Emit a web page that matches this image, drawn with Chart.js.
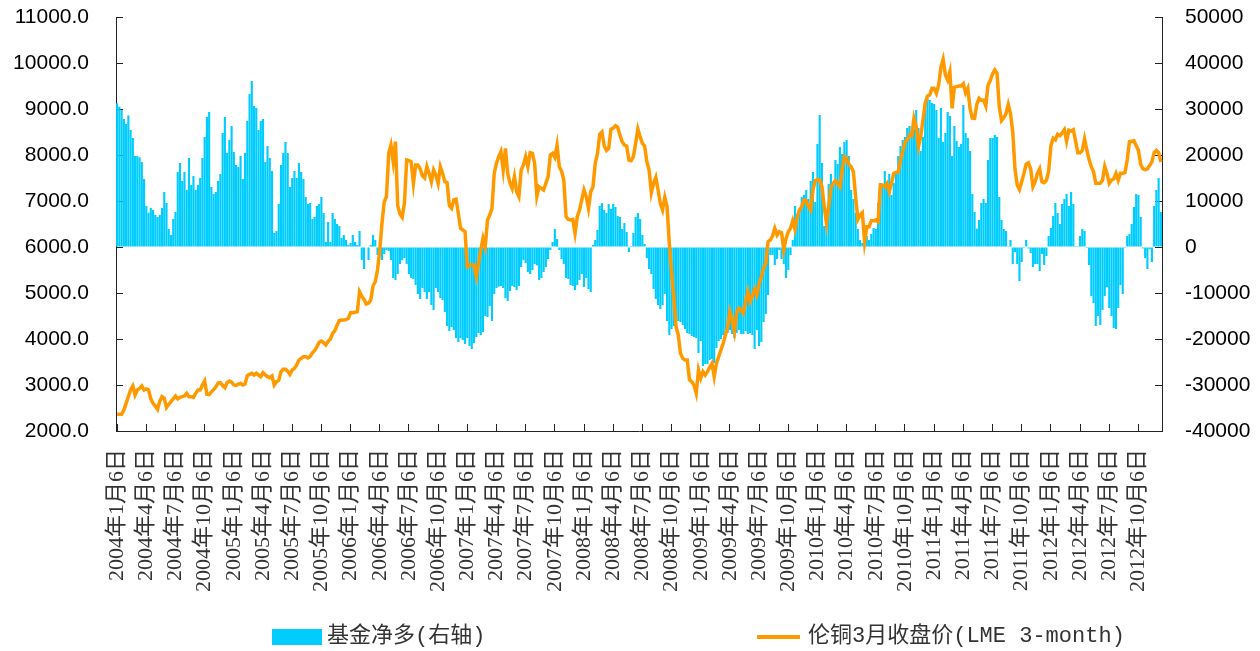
<!DOCTYPE html>
<html>
<head>
<meta charset="utf-8">
<script src="https://cdn.jsdelivr.net/npm/chart.js@4.4.1/dist/chart.umd.min.js"></script>
<style>
  html, body { margin: 0; padding: 0; background: #fff; }
  #wrap { position: relative; width: 1260px; height: 651px; }
  .lg { position: absolute; }
  .lgText { font: 22px "Liberation Mono", "Noto Sans CJK SC", monospace; color: #333; line-height: 24px; white-space: nowrap; }
</style>
</head>
<body>
<div id="wrap">
  <canvas id="myChart" width="1260" height="651"></canvas>
  <div class="lg" style="left:272px; top:629px; width:50px; height:16px; background:#00CCFF;"></div>
  <div class="lg lgText" style="left:327px; top:625px;">基金净多(右轴)</div>
  <div class="lg" style="left:757px; top:635px; width:43px; height:4px; background:#FF9900;"></div>
  <div class="lg lgText" style="left:808px; top:625px;">伦铜3月收盘价(LME 3-month)</div>
</div>
<script>
// weekly data, 2004-01-06 .. 2012-12

// quarter tick labels (one every 13 weeks)
const tickLabels = [
  '2004年1月6日', '2004年4月6日', '2004年7月6日', '2004年10月6日',
  '2005年1月6日', '2005年4月6日', '2005年7月6日', '2005年10月6日',
  '2006年1月6日', '2006年4月6日', '2006年7月6日', '2006年10月6日',
  '2007年1月6日', '2007年4月6日', '2007年7月6日', '2007年10月6日',
  '2008年1月6日', '2008年4月6日', '2008年7月6日', '2008年10月6日',
  '2009年1月6日', '2009年4月6日', '2009年7月6日', '2009年10月6日',
  '2010年1月6日', '2010年4月6日', '2010年7月6日', '2010年10月6日',
  '2011年1月6日', '2011年4月6日', '2011年7月6日', '2011年10月6日',
  '2012年1月6日', '2012年4月6日', '2012年7月6日', '2012年10月6日'
]

// 基金净多 (right axis)
const netA = [
  31230, 30500, 29780, 27830, 26740, 28620, 25430, 23700, 19780, 19780,
  19500, 18480, 14780, 8910, 7460, 8480, 8040, 6960, 6520, 6960,
  8480, 11960, 9560, 3910, 2610, 6090, 7610, 16300, 18260, 14350,
  16300, 12390, 19350, 13480, 15430, 12390, 13500, 15000, 19350, 23910,
  28260, 29350, 13040, 11520, 11960, 14350, 15870, 24780, 28260, 20430,
  23260, 26300, 20650, 17830, 17390, 19780, 14780, 20430, 27390, 33260,
  36090, 30650, 30220, 25430, 27390, 27830, 18480, 21960, 19350, 16520,
  3040, 3480, 9350, 17830, 20430, 22830, 20430, 13040, 15000, 16520,
  15000, 18260, 16300, 14780, 10870, 9350, 9560, 6090, 6520, 8910,
  9350, 10870, 7390, 1090
]
const netB = [
  5430, 1090, 7390, 6090, 5000, 4570, 1960, 2610, 1520, 430,
  870, 2610, 1090, 430, 3480, -2830, -4780, 0, -2830, 430,
  2610, 1520, -1740, -1740, -2830, -1520, -650, -870, -2830, -6740,
  -7170, -5870, -3700, -2830, -2390, -3700, -5870, -6740, -6960, -8260,
  -10220, -11300, -8910, -9780, -11300, -9780, -12610, -13700, -8910, -9780,
  -11090, -11520, -14130, -17170, -18260, -17390, -18040, -19780, -20650, -19780,
  -20220, -21090, -19780, -21520, -22170, -20870, -19560, -18700, -19130, -18480,
  -15000, -15220, -12830, -16090, -10220, -8910, -8620, -8480, -8910, -11090,
  -11740, -9560, -8480, -8700, -9350, -8480, -4350, -2830, -3480, -5430,
  -5870, -5000, -3700, -4000
]
const netC = [
  -7170, -6740, -5430, -4350, -2610, -650, 1090, 3910, 1740, -650,
  -2610, -3700, -6740, -6960, -8260, -8480, -9350, -8260, -7170, -5870,
  -8700, -6740, -9130, -9780, 430, 1520, 3700, 8910, 9560, 8040,
  7390, 9350, 8260, 9350, 8700, 6740, 6520, 3910, 5220, 3260,
  -1090, 200, 3040, 6520, 7390, 6090, 2610, 650, -2390, -4780,
  -5870, -9130, -11300, -12610, -13480, -12610, -10220, -16090, -19130, -17830,
  -17170, -16090, -16090, -16300, -16960, -17830, -18700, -18910, -19350, -19560,
  -19780, -23040, -20430, -25870, -25430, -25430, -24560, -24350, -25220, -21960,
  -20430, -20000, -19130, -18700, -18700, -18040, -18910, -19780, -18700, -18040,
  -18910, -18910, -18260, -18910
]
const netD = [
  -18700, -19130, -22170, -18040, -21520, -20650, -16300, -14570, -10430, -1740,
  -1740, -3910, -2610, -650, -2610, -3700, -6740, -5000, -1740, 1520,
  8910, 7170, 7830, 10870, 11300, 12390, 10430, 14350, 16300, 9780,
  22390, 28700, 18260, 4570, 7390, 13700, 15870, 13480, 18910, 18040,
  21740, 20220, 22830, 23260, 19780, 12390, 10430, 7390, 3910, 1520,
  870, 1090, 2390, 1520, 2830, 4130, 3910, 9560, 13910, 13260,
  16520, 14200, 15870, 11300, 13910, 16520, 19780, 21960, 23260, 23910,
  25870, 26300, 24560, 25650, 29780, 25870, 20870, 23910, 29780, 32610,
  31960, 31300, 31090, 29780, 23700, 30220, 22830, 24780, 29350, 28480,
  19780, 26300, 23040, 21740
]
const netE = [
  22390, 30870, 24780, 23700, 20870, 11520, 7610, 4000, 5870, 9560,
  10430, 9560, 18910, 23700, 23700, 24350, 23910, 10870, 5870, 3910,
  3480, 200, 1520, -3700, -1090, -3700, -7390, -3260, -200, 1520,
  -300, -1300, -4350, -3700, -3700, -5220, -1520, -3910, -1960, 2390,
  4130, 6740, 9560, 7390, 5000, 9350, 10430, 11520, 8910, 11960,
  9350, 200, 200, 2390, 3910, 3480, -200, -3910, -10650, -12170,
  -17170, -15000, -16960, -13700, -10650, -8700, -13260, -15000, -17610, -17830,
  -13260, -8260, -10220, -200, 2390, 2830, 5000, 8700, 11520, 11300,
  6520, -300, -2390, -4780, -500, -3260, 8910, 12390, 15000, 7610
]

// 伦铜3月收盘价 (left axis)
const priceA = [
  2362, 2362, 2362, 2456, 2600, 2750, 2891, 2978, 2783, 2891,
  2927, 2978, 2891, 2913, 2891, 2700, 2601, 2543, 2471, 2650,
  2746, 2710, 2514, 2580, 2640, 2700, 2761, 2700, 2732, 2746,
  2761, 2819, 2746, 2746, 2732, 2819, 2891, 2891, 3000, 3087,
  2800, 2790, 2850, 2900, 2960, 3040, 3050, 2990, 2942, 3050,
  3087, 3060, 3000, 2990, 3022, 3036, 3000, 3022, 3203, 3232,
  3254, 3217, 3254, 3217, 3181, 3268, 3217, 3181, 3159, 3196,
  3000, 3072, 3100, 3290, 3340, 3340, 3300, 3232, 3326, 3362,
  3435, 3543, 3580, 3616, 3616, 3590, 3620, 3700, 3750, 3830,
  3930, 3956, 3920, 3870
]
const priceB = [
  3950, 4000, 4123, 4180, 4300, 4400, 4413, 4413, 4420, 4450,
  4572, 4572, 4580, 4594, 5029, 4930, 4860, 4760, 4780, 4848,
  5152, 5246, 5500, 5935, 6514, 6985, 7094, 8036, 8217, 7855,
  8290, 6900, 6717, 6645, 6949, 7891, 7877, 7855, 7384, 7783,
  7783, 7700, 7550, 7500, 7750, 7600, 7420, 7674, 7565, 7384,
  7746, 7600, 7420, 7398, 6900, 6840, 7022, 7036, 6732, 6406,
  6370, 6333, 5572, 5608, 5608, 5608, 5355, 5645, 5935, 6188,
  6007, 6587, 6695, 6840, 7600, 7819, 7964, 8072, 7674, 8145,
  7600, 7400, 7275, 7529, 7203, 7094, 7674, 7783, 7964, 7746,
  8051, 8036, 7819, 7100
]
const priceC = [
  7311, 7275, 7239, 7384, 7529, 8000, 8036, 7949, 8217, 7746,
  7650, 7456, 6659, 6600, 6587, 6601, 6297, 6659, 6804, 7022,
  7239, 7094, 6840, 7200, 7311, 7819, 8036, 8450, 8500, 8200,
  8100, 8145, 8565, 8580, 8637, 8600, 8435, 8290, 8217, 8196,
  7891, 7877, 7964, 8253, 8565, 8399, 8253, 8196, 7855, 7674,
  7181, 7384, 7514, 7239, 6950, 6804, 7080, 6877, 6080, 5450,
  4920, 4268, 4087, 3688, 3580, 3543, 3543, 3109, 3072, 3000,
  2819, 3326, 3145, 3290, 3217, 3290, 3384, 3471, 3181, 3471,
  3616, 3761, 3906, 4087, 4268, 4594, 4413, 4159, 4558, 4667,
  4630, 4558, 4812, 5029
]
const priceD = [
  4812, 4935, 5080, 4957, 5200, 5355, 5536, 5645, 6116, 6152,
  6239, 6406, 6261, 6333, 6312, 5935, 6188, 6333, 6406, 6572,
  6384, 6659, 6804, 6877, 7022, 7007, 6877, 6804, 7239, 7442,
  7471, 7456, 7311, 6891, 6514, 6877, 7275, 7384, 7442, 7384,
  7311, 7674, 7964, 7927, 7804, 7746, 7637, 7094, 6601, 6695,
  6746, 6116, 6442, 6442, 6572, 6572, 6587, 6551, 7348, 7348,
  7311, 7384, 7203, 7384, 7601, 7616, 7637, 7891, 8072, 8290,
  8326, 8435, 8413, 8797, 8616, 8181, 8399, 8761, 9123, 9282,
  9304, 9449, 9449, 9340, 9521, 9906, 10080, 9739, 9630, 9811,
  9014, 9471, 9485, 9500
]
const priceE = [
  9500, 9550, 9350, 9450, 9000, 8800, 8797, 9100, 9232, 9190,
  9195, 9065, 9521, 9616, 9760, 9848, 9780, 9051, 8750, 8810,
  8900, 9100, 8900, 8500, 7700, 7350, 7250, 7420, 7600, 7800,
  7830, 7700, 7311, 7420, 7600, 7700, 7420, 7398, 7450, 7650,
  8200, 8362, 8330, 8450, 8420, 8480, 8550, 8300, 8540, 8520,
  8550, 8300, 8051, 8051, 8100, 8350, 8109, 7900, 7746, 7637,
  7384, 7384, 7384, 7450, 7750, 7600, 7384, 7456, 7480, 7601,
  7450, 7601, 7601, 7616, 7891, 8290, 8300, 8310, 8200, 8100,
  7800, 7700, 7680, 7700, 7770, 7850, 8050, 8100, 8050, 7850
]

const netLong = netA.concat(netB, netC, netD, netE)
const copper = priceA.concat(priceB, priceC, priceD, priceE)
const weeks = copper.map((_, i) => i)

const WEEKS_PER_TICK = 13
const axisColor = '#222'
const tickFont = { family: '"Liberation Sans", Arial, sans-serif', size: 21 }

// fixed axis sizes so the plot area lands where the original one is
const fixY = w => s => { s.width = w; s.paddingTop = 0; s.paddingBottom = 0 }

const ctx = document.getElementById('myChart')

new Chart(ctx, {
  type: 'bar',
  data: {
    labels: weeks,
    datasets: [{
      type: 'line',
      label: '伦铜3月收盘价(LME 3-month)',
      data: copper,
      yAxisID: 'y',
      borderColor: '#FF9900',
      backgroundColor: '#FF9900',
      borderWidth: 3.5,
      pointRadius: 0,
      tension: 0,
      order: 1
    }, {
      label: '基金净多(右轴)',
      data: netLong,
      yAxisID: 'y1',
      backgroundColor: '#00CCFF',
      barPercentage: 0.95,
      categoryPercentage: 1.0,
      order: 2
    }]
  },
  options: {
    responsive: false,
    animation: false,
    devicePixelRatio: 1,
    layout: { padding: { top: 17, right: 0, bottom: 0, left: 0 } },
    plugins: {
      legend: { display: false },
      tooltip: { enabled: false }
    },
    scales: {
      x: {
        offset: true,
        grid: {
          offset: false,
          drawOnChartArea: false,
          tickLength: -7,
          tickColor: c => c.index % WEEKS_PER_TICK === 0 ? axisColor : 'rgba(0,0,0,0)'
        },
        border: { display: true, color: axisColor, width: 1 },
        ticks: {
          autoSkip: false,
          minRotation: 90,
          maxRotation: 90,
          padding: 25,
          color: '#333',
          font: { family: '"Liberation Serif", "Noto Sans CJK SC", serif', size: 22 },
          callback: (v, i) => i % WEEKS_PER_TICK === 0 ? tickLabels[i / WEEKS_PER_TICK] : ''
        },
        afterFit: s => { s.height = 220; s.paddingLeft = 0; s.paddingRight = 0 }
      },
      y: {
        position: 'left',
        min: 2000,
        max: 11000,
        grid: { drawOnChartArea: false, tickLength: -7, color: axisColor },
        border: { display: true, color: axisColor, width: 1 },
        ticks: {
          stepSize: 1000,
          padding: 34,
          color: '#000',
          font: tickFont,
          callback: v => v.toFixed(1)
        },
        afterFit: fixY(116)
      },
      y1: {
        position: 'right',
        min: -40000,
        max: 50000,
        grid: { drawOnChartArea: false, tickLength: -7, color: axisColor },
        border: { display: true, color: axisColor, width: 1 },
        ticks: {
          stepSize: 10000,
          padding: 30,
          color: '#000',
          font: tickFont,
          callback: v => String(v)
        },
        afterFit: fixY(98)
      }
    }
  }
})
</script>
</body>
</html>
